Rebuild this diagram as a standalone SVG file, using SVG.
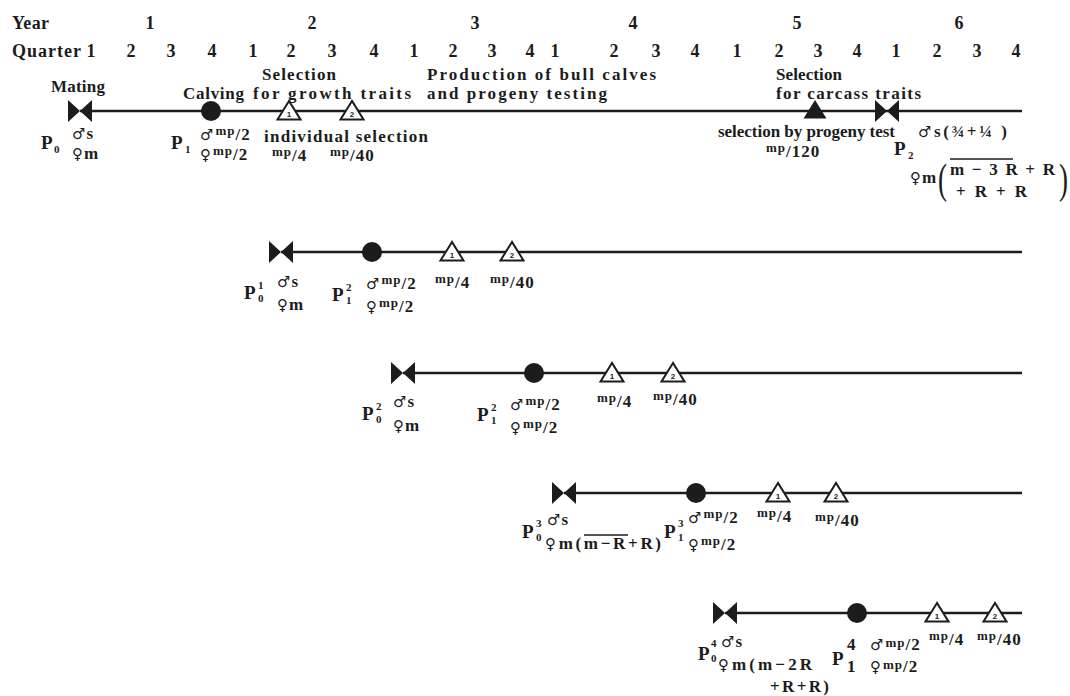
<svg xmlns="http://www.w3.org/2000/svg" xmlns:xlink="http://www.w3.org/1999/xlink" width="1070" height="696" viewBox="0 0 1070 696">
<style>
.tx{font-family:"Liberation Serif","DejaVu Serif",serif;font-weight:bold;fill:#1c1c1c}
.h{font-size:18px}
.c{font-size:17px}
.l{font-size:17px;letter-spacing:1px}
.p{font-size:19px}
.mp{font-size:13px}
.sy{font-family:"DejaVu Sans",sans-serif;font-weight:normal;font-size:15px}
.sub{font-size:11px}
.num{font-family:"Liberation Sans",sans-serif;font-size:8px;font-weight:bold;text-anchor:middle;fill:#1c1c1c}
.mid{text-anchor:middle}
.tl{stroke:#1c1c1c;stroke-width:2.3;fill:none}
.ov{stroke:#1c1c1c;stroke-width:1.4}
.par{font-family:"Liberation Serif",serif;font-weight:normal;font-size:36px;fill:#1c1c1c}
</style>
<defs>
<path id="bow" d="M-12,-11 L0,0 L-12,11 Z M12,-11 L0,0 L12,11 Z" fill="#1c1c1c"/>
<circle id="calf" r="10" fill="#1c1c1c"/>
<path id="tri" d="M0,-10 L-11.5,8.5 L11.5,8.5 Z" fill="#fff" stroke="#1c1c1c" stroke-width="2" stroke-linejoin="miter"/>
<path id="ftri" d="M0,-11 L-11.5,7.5 L11.5,7.5 Z" fill="#1c1c1c"/>
</defs>
<rect width="1070" height="696" fill="#fff"/>

<g id="header">
<text class="tx h" x="12" y="29" textLength="37">Year</text>
<text class="tx h mid" x="150" y="29">1</text>
<text class="tx h mid" x="312" y="29">2</text>
<text class="tx h mid" x="475" y="29">3</text>
<text class="tx h mid" x="633" y="29">4</text>
<text class="tx h mid" x="797" y="29">5</text>
<text class="tx h mid" x="959" y="29">6</text>
<text class="tx h" x="12" y="57" textLength="69">Quarter</text>
<text class="tx h mid" x="91" y="57">1</text>
<text class="tx h mid" x="131" y="57">2</text>
<text class="tx h mid" x="171" y="57">3</text>
<text class="tx h mid" x="212" y="57">4</text>
<text class="tx h mid" x="253" y="57">1</text>
<text class="tx h mid" x="291" y="57">2</text>
<text class="tx h mid" x="332" y="57">3</text>
<text class="tx h mid" x="374" y="57">4</text>
<text class="tx h mid" x="414" y="57">1</text>
<text class="tx h mid" x="453" y="57">2</text>
<text class="tx h mid" x="492" y="57">3</text>
<text class="tx h mid" x="530" y="57">4</text>
<text class="tx h mid" x="555" y="57">1</text>
<text class="tx h mid" x="614" y="57">2</text>
<text class="tx h mid" x="656" y="57">3</text>
<text class="tx h mid" x="695" y="57">4</text>
<text class="tx h mid" x="737" y="57">1</text>
<text class="tx h mid" x="779" y="57">2</text>
<text class="tx h mid" x="818" y="57">3</text>
<text class="tx h mid" x="857" y="57">4</text>
<text class="tx h mid" x="896" y="57">1</text>
<text class="tx h mid" x="937" y="57">2</text>
<text class="tx h mid" x="977" y="57">3</text>
<text class="tx h mid" x="1016" y="57">4</text>
</g>

<g id="connectors">
<line class="tl" x1="80" y1="111" x2="1022" y2="111"/>
<line class="tl" x1="281" y1="252" x2="1022" y2="252"/>
<line class="tl" x1="403" y1="373" x2="1022" y2="373"/>
<line class="tl" x1="564" y1="493" x2="1022" y2="493"/>
<line class="tl" x1="725" y1="613" x2="1022" y2="613"/>
</g>

<g id="phase-production">
<text class="tx c" x="427" y="80" textLength="229">Production of bull calves</text>
<text class="tx c" x="427" y="99" textLength="180">and progeny testing</text>
</g>

<!-- Row 1 -->
<g id="r1-mating">
<use xlink:href="#bow" x="80" y="111"/>
<text class="tx c" x="51" y="92" textLength="54">Mating</text>
<text class="tx p" x="41" y="149">P</text><text class="tx sub" x="54" y="153">0</text>
<text class="tx l" x="72" y="139"><tspan class="sy">♂</tspan>s</text>
<text class="tx l" x="72" y="159"><tspan class="sy">♀</tspan>m</text>
</g>
<g id="r1-calving">
<use xlink:href="#calf" x="211" y="111"/>
<text class="tx c" x="183" y="99" textLength="61">Calving</text>
<text class="tx p" x="171" y="149">P</text><text class="tx sub" x="185" y="153">1</text>
<text class="tx l" x="200" y="140"><tspan class="sy">♂</tspan><tspan class="mp" dx="1" dy="-5">mp</tspan><tspan dy="5">/2</tspan></text>
<text class="tx l" x="200" y="160"><tspan class="sy">♀</tspan><tspan class="mp" dx="1" dy="-5">mp</tspan><tspan dy="5">/2</tspan></text>
</g>
<g id="r1-sel1">
<use xlink:href="#tri" x="289" y="111"/>
<text class="num" x="289" y="117">1</text>
<text class="tx c" x="262" y="80" textLength="74">Selection</text>
<text class="tx c" x="253" y="99" textLength="158">for growth traits</text>
<text class="tx l" x="264" y="142" textLength="165">individual selection</text>
<text class="tx l" x="272" y="161"><tspan class="mp" dy="-5">mp</tspan><tspan dy="5">/4</tspan></text>
</g>
<g id="r1-sel2">
<use xlink:href="#tri" x="352" y="111"/>
<text class="num" x="352" y="117">2</text>
<text class="tx l" x="330" y="161"><tspan class="mp" dy="-5">mp</tspan><tspan dy="5">/40</tspan></text>
</g>
<g id="r1-progeny">
<use xlink:href="#ftri" x="815" y="111"/>
<text class="tx c" x="776" y="80" textLength="66">Selection</text>
<text class="tx c" x="776" y="99" textLength="145">for carcass traits</text>
<text class="tx l" x="718" y="137" textLength="178">selection by progeny test</text>
<text class="tx l" x="766" y="157"><tspan class="mp" dy="-5">mp</tspan><tspan dy="5">/120</tspan></text>
</g>
<g id="r1-mating2">
<use xlink:href="#bow" x="887" y="111"/>
<text class="tx p" x="894" y="155">P</text><text class="tx sub" x="908" y="159">2</text>
<text class="tx l" x="918" y="137" textLength="90"><tspan class="sy">♂</tspan>s(¾+¼ )</text>
<text class="tx l" x="910" y="183"><tspan class="sy">♀</tspan>m</text>
<text class="par" transform="translate(938,193) scale(0.75,1.2)">(</text>
<text class="tx l" x="950" y="175" textLength="106">m−3R+R</text>
<line class="ov" x1="950" y1="159" x2="1013" y2="159"/>
<text class="tx l" x="956" y="197" textLength="72">+R+R</text>
<text class="par" transform="translate(1059,193) scale(0.75,1.2)">)</text>
</g>

<!-- Row 2 -->
<g id="r2-mating">
<use xlink:href="#bow" x="281" y="252"/>
<text class="tx p" x="244" y="299">P</text><text class="tx sub" x="258" y="289">1</text><text class="tx sub" x="258" y="302">0</text>
<text class="tx l" x="277" y="287"><tspan class="sy">♂</tspan>s</text>
<text class="tx l" x="277" y="310"><tspan class="sy">♀</tspan>m</text>
</g>
<g id="r2-calving">
<use xlink:href="#calf" x="372" y="252"/>
<text class="tx p" x="332" y="301">P</text><text class="tx sub" x="346" y="291">2</text><text class="tx sub" x="346" y="304">1</text>
<text class="tx l" x="366" y="289"><tspan class="sy">♂</tspan><tspan class="mp" dx="1" dy="-5">mp</tspan><tspan dy="5">/2</tspan></text>
<text class="tx l" x="366" y="312"><tspan class="sy">♀</tspan><tspan class="mp" dx="1" dy="-5">mp</tspan><tspan dy="5">/2</tspan></text>
</g>
<g id="r2-sel1">
<use xlink:href="#tri" x="452" y="252"/>
<text class="num" x="452" y="258">1</text>
<text class="tx l" x="435" y="288"><tspan class="mp" dy="-5">mp</tspan><tspan dy="5">/4</tspan></text>
</g>
<g id="r2-sel2">
<use xlink:href="#tri" x="512" y="252"/>
<text class="num" x="512" y="258">2</text>
<text class="tx l" x="490" y="288"><tspan class="mp" dy="-5">mp</tspan><tspan dy="5">/40</tspan></text>
</g>

<!-- Row 3 -->
<g id="r3-mating">
<use xlink:href="#bow" x="403" y="373"/>
<text class="tx p" x="362" y="420">P</text><text class="tx sub" x="376" y="410">2</text><text class="tx sub" x="376" y="423">0</text>
<text class="tx l" x="393" y="407"><tspan class="sy">♂</tspan>s</text>
<text class="tx l" x="393" y="431"><tspan class="sy">♀</tspan>m</text>
</g>
<g id="r3-calving">
<use xlink:href="#calf" x="534" y="373"/>
<text class="tx p" x="477" y="421">P</text><text class="tx sub" x="491" y="411">2</text><text class="tx sub" x="491" y="424">1</text>
<text class="tx l" x="510" y="410"><tspan class="sy">♂</tspan><tspan class="mp" dx="1" dy="-5">mp</tspan><tspan dy="5">/2</tspan></text>
<text class="tx l" x="510" y="433"><tspan class="sy">♀</tspan><tspan class="mp" dx="1" dy="-5">mp</tspan><tspan dy="5">/2</tspan></text>
</g>
<g id="r3-sel1">
<use xlink:href="#tri" x="612" y="373"/>
<text class="num" x="612" y="379">1</text>
<text class="tx l" x="597" y="407"><tspan class="mp" dy="-5">mp</tspan><tspan dy="5">/4</tspan></text>
</g>
<g id="r3-sel2">
<use xlink:href="#tri" x="673" y="373"/>
<text class="num" x="673" y="379">2</text>
<text class="tx l" x="653" y="405"><tspan class="mp" dy="-5">mp</tspan><tspan dy="5">/40</tspan></text>
</g>

<!-- Row 4 -->
<g id="r4-mating">
<use xlink:href="#bow" x="564" y="493"/>
<text class="tx p" x="522" y="538">P</text><text class="tx sub" x="536" y="527">3</text><text class="tx sub" x="536" y="541">0</text>
<text class="tx l" x="547" y="525"><tspan class="sy">♂</tspan>s</text>
<text class="tx l" x="545" y="549" textLength="117"><tspan class="sy">♀</tspan>m(m−R+R)</text>
<line class="ov" x1="584" y1="535" x2="628" y2="535"/>
</g>
<g id="r4-calving">
<use xlink:href="#calf" x="696" y="493"/>
<text class="tx p" x="664" y="538">P</text><text class="tx sub" x="678" y="527">3</text><text class="tx sub" x="678" y="541">1</text>
<text class="tx l" x="688" y="523"><tspan class="sy">♂</tspan><tspan class="mp" dx="1" dy="-5">mp</tspan><tspan dy="5">/2</tspan></text>
<text class="tx l" x="688" y="550"><tspan class="sy">♀</tspan><tspan class="mp" dx="1" dy="-5">mp</tspan><tspan dy="5">/2</tspan></text>
</g>
<g id="r4-sel1">
<use xlink:href="#tri" x="778" y="493"/>
<text class="num" x="778" y="499">1</text>
<text class="tx l" x="757" y="522"><tspan class="mp" dy="-5">mp</tspan><tspan dy="5">/4</tspan></text>
</g>
<g id="r4-sel2">
<use xlink:href="#tri" x="836" y="493"/>
<text class="num" x="836" y="499">2</text>
<text class="tx l" x="815" y="526"><tspan class="mp" dy="-5">mp</tspan><tspan dy="5">/40</tspan></text>
</g>

<!-- Row 5 -->
<g id="r5-mating">
<use xlink:href="#bow" x="725" y="613"/>
<text class="tx p" x="698" y="660">P</text><text class="tx sub" x="711" y="647">4</text><text class="tx sub" x="711" y="662">0</text>
<text class="tx l" x="721" y="647"><tspan class="sy">♂</tspan>s</text>
<text class="tx l" x="718" y="670" textLength="95"><tspan class="sy">♀</tspan>m(m−2R</text>
<text class="tx l" x="770" y="692" textLength="60">+R+R)</text>
</g>
<g id="r5-calving">
<use xlink:href="#calf" x="857" y="613"/>
<text class="tx p" x="832" y="665">P</text><text class="tx l" x="847" y="650">4</text><text class="tx l" x="847" y="672">1</text>
<text class="tx l" x="870" y="650"><tspan class="sy">♂</tspan><tspan class="mp" dx="1" dy="-3">mp</tspan><tspan dy="3">/2</tspan></text>
<text class="tx l" x="870" y="672"><tspan class="sy">♀</tspan><tspan class="mp" dx="1" dy="-3">mp</tspan><tspan dy="3">/2</tspan></text>
</g>
<g id="r5-sel1">
<use xlink:href="#tri" x="937" y="613"/>
<text class="num" x="937" y="619">1</text>
<text class="tx l" x="929" y="645"><tspan class="mp" dy="-5">mp</tspan><tspan dy="5">/4</tspan></text>
</g>
<g id="r5-sel2">
<use xlink:href="#tri" x="995" y="613"/>
<text class="num" x="995" y="619">2</text>
<text class="tx l" x="977" y="645"><tspan class="mp" dy="-5">mp</tspan><tspan dy="5">/40</tspan></text>
</g>
</svg>
